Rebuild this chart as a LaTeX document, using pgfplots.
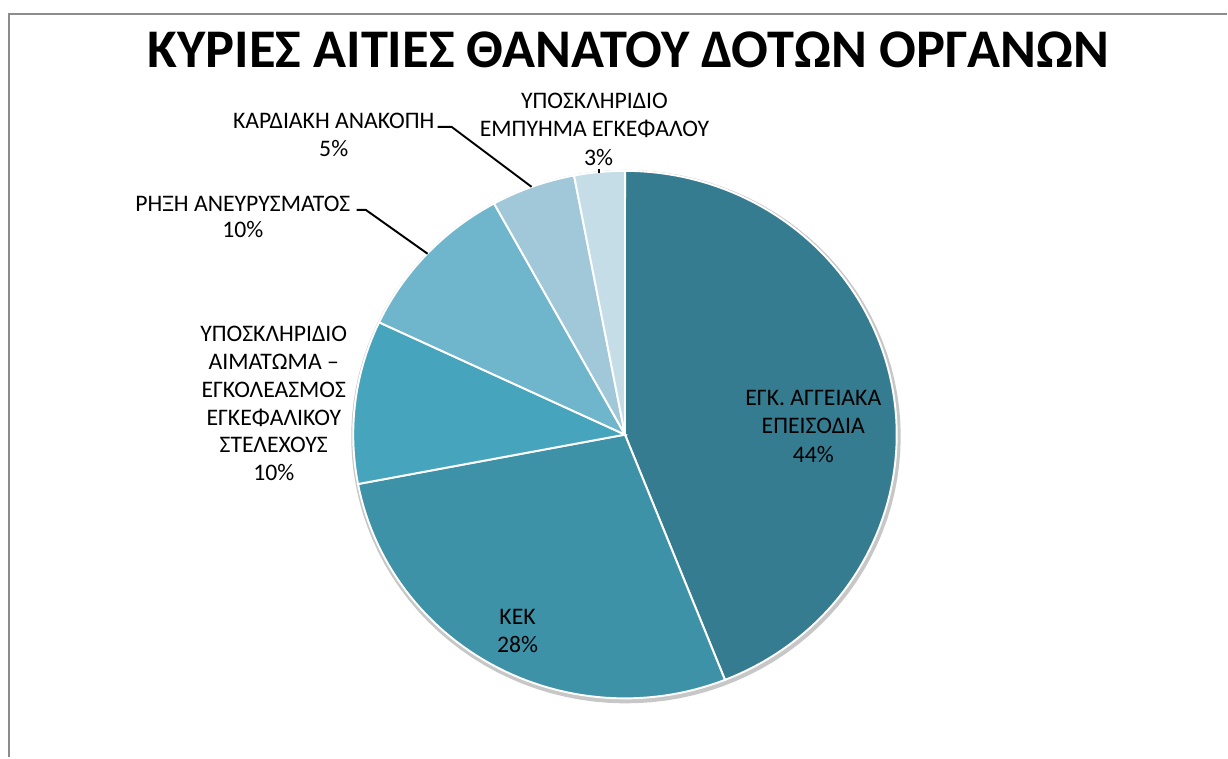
\documentclass[border=0pt]{standalone}
\usepackage{pgfplots}
\pgfplotsset{compat=1.18}
\usepackage{pgfplotstable}
\usepackage{fontspec}
\setmainfont{Carlito}

\definecolor{sA}{RGB}{54,124,145}
\definecolor{sB}{RGB}{62,146,168}
\definecolor{sC}{RGB}{71,164,189}
\definecolor{sD}{RGB}{111,181,204}
\definecolor{sE}{RGB}{160,200,217}
\definecolor{sF}{RGB}{196,221,230}

% shares (percent), clockwise from 12 o'clock
\pgfplotstableread{
share
44
28
10
10
5
3
}\piedata

\begin{document}
\begin{tikzpicture}
\pgfplotstablegetelem{0}{share}\of\piedata \pgfmathsetmacro\vA{\pgfplotsretval}
\pgfplotstablegetelem{1}{share}\of\piedata \pgfmathsetmacro\vB{\pgfplotsretval}
\pgfplotstablegetelem{2}{share}\of\piedata \pgfmathsetmacro\vC{\pgfplotsretval}
\pgfplotstablegetelem{3}{share}\of\piedata \pgfmathsetmacro\vD{\pgfplotsretval}
\pgfplotstablegetelem{4}{share}\of\piedata \pgfmathsetmacro\vE{\pgfplotsretval}
\pgfplotstablegetelem{5}{share}\of\piedata \pgfmathsetmacro\vF{\pgfplotsretval}
\pgfmathsetmacro\aA{90}
\pgfmathsetmacro\aB{\aA-3.6*\vA}
\pgfmathsetmacro\aC{\aB-3.6*\vB}
\pgfmathsetmacro\aD{\aC-3.6*\vC}
\pgfmathsetmacro\aE{\aD-3.6*\vD}
\pgfmathsetmacro\aF{\aE-3.6*\vE}
\pgfmathsetmacro\aG{\aF-3.6*\vF}
\def\cx{625.5}\def\cy{323}\def\rx{272}\def\ry{264}
\tikzset{lbl/.style={anchor=base, inner sep=0pt, font=\fontsize{13.5}{16}\selectfont}}
\begin{axis}[width=24.56cm, height=15.16cm, scale only axis,
  xmin=0, xmax=1228, ymin=0, ymax=758, hide axis, clip=false]
\path (axis cs:0,0) rectangle (axis cs:1228,758);
\draw[color=black!45, line width=1.2pt] (axis cs:9,0) -- (axis cs:9,744) -- (axis cs:1228,744);
% shadow
\addplot[draw=none, fill=black!22, domain=0:360, samples=120, variable=\t]
  ({\cx+1+(\rx+3)*cos(\t)},{\cy-2+(\ry+3)*sin(\t)}) -- cycle;
% slices
\addplot[fill=sA, draw=white, line width=1.1pt, domain=\aB:\aA, samples=90, variable=\t]
  ({\cx+\rx*cos(\t)},{\cy+\ry*sin(\t)}) -- (axis cs:\cx,\cy) -- cycle;
\addplot[fill=sB, draw=white, line width=1.1pt, domain=\aC:\aB, samples=60, variable=\t]
  ({\cx+\rx*cos(\t)},{\cy+\ry*sin(\t)}) -- (axis cs:\cx,\cy) -- cycle;
\addplot[fill=sC, draw=white, line width=1.1pt, domain=\aD:\aC, samples=30, variable=\t]
  ({\cx+\rx*cos(\t)},{\cy+\ry*sin(\t)}) -- (axis cs:\cx,\cy) -- cycle;
\addplot[fill=sD, draw=white, line width=1.1pt, domain=\aE:\aD, samples=30, variable=\t]
  ({\cx+\rx*cos(\t)},{\cy+\ry*sin(\t)}) -- (axis cs:\cx,\cy) -- cycle;
\addplot[fill=sE, draw=white, line width=1.1pt, domain=\aF:\aE, samples=20, variable=\t]
  ({\cx+\rx*cos(\t)},{\cy+\ry*sin(\t)}) -- (axis cs:\cx,\cy) -- cycle;
\addplot[fill=sF, draw=white, line width=1.1pt, domain=\aG:\aF, samples=15, variable=\t]
  ({\cx+\rx*cos(\t)},{\cy+\ry*sin(\t)}) -- (axis cs:\cx,\cy) -- cycle;
% title
\node[anchor=base, inner sep=0pt, font=\fontsize{31}{37}\selectfont\bfseries] at (axis cs:629,690) {ΚΥΡΙΕΣ ΑΙΤΙΕΣ ΘΑΝΑΤΟΥ ΔΟΤΩΝ ΟΡΓΑΝΩΝ};
% labels
\node[lbl] at (axis cs:814,352) {ΕΓΚ. ΑΓΓΕΙΑΚΑ};
\node[lbl] at (axis cs:814,324) {ΕΠΕΙΣΟΔΙΑ};
\node[lbl] at (axis cs:814,295) {44\%};
\node[lbl] at (axis cs:518,133) {ΚΕΚ};
\node[lbl] at (axis cs:518,105) {28\%};
\node[lbl] at (axis cs:274,416) {ΥΠΟΣΚΛΗΡΙΔΙΟ};
\node[lbl] at (axis cs:274,388) {ΑΙΜΑΤΩΜΑ –};
\node[lbl] at (axis cs:274,360) {ΕΓΚΟΛΕΑΣΜΟΣ};
\node[lbl] at (axis cs:274,332) {ΕΓΚΕΦΑΛΙΚΟΥ};
\node[lbl] at (axis cs:274,305) {ΣΤΕΛΕΧΟΥΣ};
\node[lbl] at (axis cs:274,277) {10\%};
\node[lbl] at (axis cs:243,546) {ΡΗΞΗ ΑΝΕΥΡΥΣΜΑΤΟΣ};
\node[lbl] at (axis cs:243,520) {10\%};
\node[lbl] at (axis cs:334,629) {ΚΑΡΔΙΑΚΗ ΑΝΑΚΟΠΗ};
\node[lbl] at (axis cs:334,601) {5\%};
\node[lbl] at (axis cs:595,649) {ΥΠΟΣΚΛΗΡΙΔΙΟ};
\node[lbl] at (axis cs:595,621) {ΕΜΠΥΗΜΑ ΕΓΚΕΦΑΛΟΥ};
\node[lbl] at (axis cs:599,592) {3\%};
% leader lines
\draw[black, line width=1.1pt] (axis cs:357,548) -- (axis cs:366,548) -- (axis cs:428,504);
\draw[black, line width=1.1pt] (axis cs:438,631) -- (axis cs:452,631) -- (axis cs:532,571);
\draw[black, line width=1.1pt] (axis cs:599.5,589) -- (axis cs:599.5,585);
\end{axis}
\end{tikzpicture}
\end{document}
